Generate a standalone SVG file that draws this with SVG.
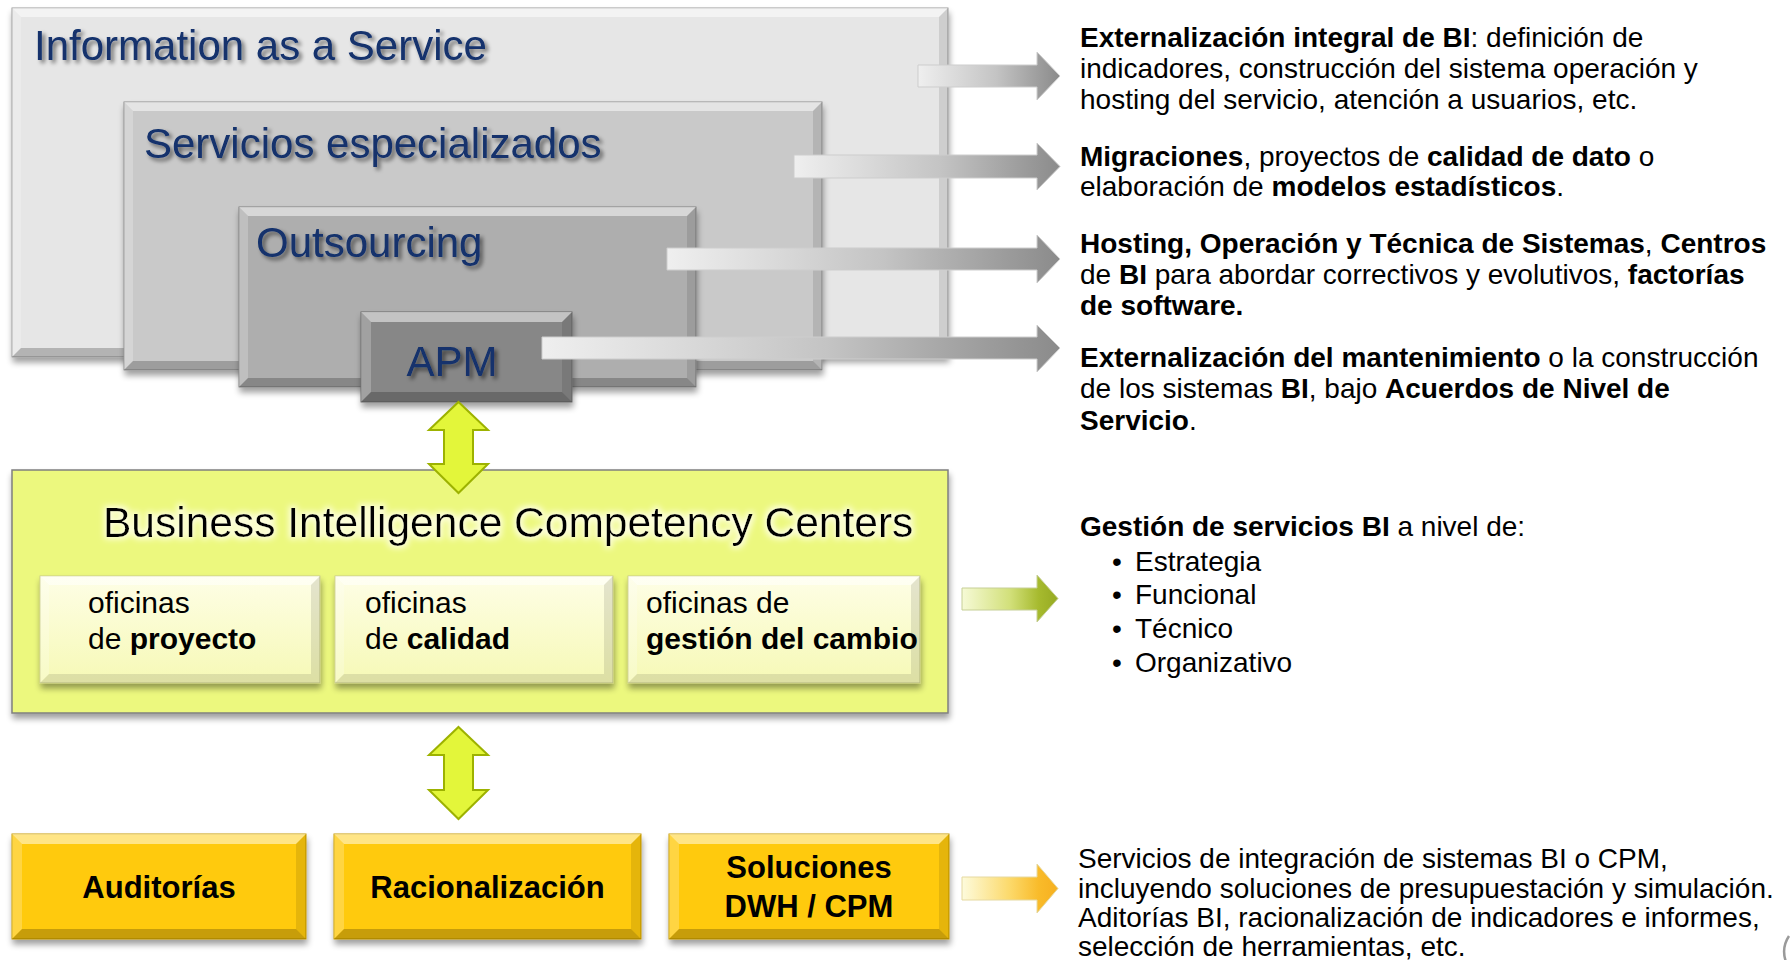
<svg xmlns="http://www.w3.org/2000/svg" width="1792" height="960" viewBox="0 0 1792 960">
<defs>
<style>
.t{font-family:"Liberation Sans",Arial,sans-serif}
.title{font-size:42px;fill:#12306c}
.rt{font-size:28px;fill:#000}
.b{font-weight:bold}
.sub{font-size:30px;fill:#000}
.gold{font-size:31px;font-weight:bold;fill:#000;text-anchor:middle}
.hl{fill:#fff;opacity:.5}
.hl2{fill:#fff;opacity:.22}
.dk{fill:#000;opacity:.10}
.dk2{fill:#000;opacity:.22}
.garrow{stroke:#cdcdcd;stroke-width:1}
.dbl{fill:#e3f63a;stroke:#9db200;stroke-width:2;stroke-linejoin:miter}
</style>
<filter id="sh" x="-5%" y="-10%" width="110%" height="130%">
<feGaussianBlur in="SourceAlpha" stdDeviation="3"/>
<feOffset dx="1" dy="5" result="o"/>
<feComponentTransfer><feFuncA type="linear" slope="0.38"/></feComponentTransfer>
<feMerge><feMergeNode/><feMergeNode in="SourceGraphic"/></feMerge>
</filter>
<filter id="ts" x="-10%" y="-30%" width="120%" height="160%">
<feGaussianBlur in="SourceAlpha" stdDeviation="2.2"/>
<feOffset dx="3" dy="3" result="o"/>
<feComponentTransfer><feFuncA type="linear" slope="0.55"/></feComponentTransfer>
<feMerge><feMergeNode/><feMergeNode in="SourceGraphic"/></feMerge>
</filter>
<filter id="glow" x="-10%" y="-40%" width="120%" height="180%">
<feMorphology in="SourceAlpha" operator="dilate" radius="2" result="d"/>
<feGaussianBlur in="d" stdDeviation="3" result="g"/>
<feFlood flood-color="#ffffe8" flood-opacity="0.95"/>
<feComposite in2="g" operator="in" result="gl"/>
<feMerge><feMergeNode in="gl"/><feMergeNode in="SourceGraphic"/></feMerge>
</filter>
<linearGradient id="gGrey" x1="0" y1="0" x2="1" y2="0">
<stop offset="0" stop-color="#efefef"/>
<stop offset="0.55" stop-color="#c4c4c4"/>
<stop offset="0.86" stop-color="#9c9c9c"/>
<stop offset="1" stop-color="#8b8b8b"/>
</linearGradient>
<linearGradient id="gGreen" x1="0" y1="0" x2="1" y2="0">
<stop offset="0" stop-color="#f6fad6"/>
<stop offset="0.5" stop-color="#d2e07a"/>
<stop offset="0.8" stop-color="#a6ba2e"/>
<stop offset="1" stop-color="#96aa22"/>
</linearGradient>
<linearGradient id="gOrange" x1="0" y1="0" x2="1" y2="0">
<stop offset="0" stop-color="#fdfbdc"/>
<stop offset="0.5" stop-color="#fcd96a"/>
<stop offset="0.8" stop-color="#f9bb2a"/>
<stop offset="1" stop-color="#f6b020"/>
</linearGradient>
<linearGradient id="gSub" x1="0" y1="0" x2="0" y2="1">
<stop offset="0" stop-color="#fefee6"/>
<stop offset="1" stop-color="#f6f9b6"/>
</linearGradient>
</defs>

<rect width="1792" height="960" fill="#fff"/>

<g id="node-information-as-a-service">
<rect x="12" y="8" width="936" height="349" fill="#e6e6e6" stroke="#9a9a9a" stroke-width="1" filter="url(#sh)"/>
<polygon class="hl" points="12,8 948,8 939,17 21,17"/>
<polygon class="hl2" points="12,8 21,17 21,348 12,357"/>
<polygon class="dk" points="948,8 948,357 939,348 939,17"/>
<polygon class="dk2" points="12,357 948,357 939,348 21,348"/>
<text class="t title" x="34" y="60" filter="url(#ts)">Information as a Service</text>
</g>

<g id="node-servicios-especializados">
<rect x="124" y="102" width="698" height="268" fill="#c9c9c9" stroke="#8e8e8e" stroke-width="1" filter="url(#sh)"/>
<polygon class="hl" points="124,102 822,102 813,111 133,111"/>
<polygon class="hl2" points="124,102 133,111 133,361 124,370"/>
<polygon class="dk" points="822,102 822,370 813,361 813,111"/>
<polygon class="dk2" points="124,370 822,370 813,361 133,361"/>
<text class="t title" x="144" y="158" filter="url(#ts)">Servicios especializados</text>
</g>

<g id="node-outsourcing">
<rect x="239" y="207" width="457" height="180" fill="#aeaeae" stroke="#808080" stroke-width="1" filter="url(#sh)"/>
<polygon class="hl" points="239,207 696,207 687,216 248,216"/>
<polygon class="hl2" points="239,207 248,216 248,378 239,387"/>
<polygon class="dk" points="696,207 696,387 687,378 687,216"/>
<polygon class="dk2" points="239,387 696,387 687,378 248,378"/>
<text class="t title" x="256" y="257" filter="url(#ts)">Outsourcing</text>
</g>

<g id="node-apm">
<rect x="361" y="312" width="211" height="90" fill="#878787" stroke="#6a6a6a" stroke-width="1" filter="url(#sh)"/>
<polygon class="hl" points="361,312 572,312 562,322 371,322"/>
<polygon class="hl2" points="361,312 371,322 371,392 361,402"/>
<polygon class="dk" points="572,312 572,402 562,392 562,322"/>
<polygon class="dk2" points="361,402 572,402 562,392 371,392"/>
<text class="t title" x="452" y="376" text-anchor="middle" filter="url(#ts)">APM</text>
</g>

<g id="node-bicc">
<rect x="12" y="470" width="936" height="243" fill="#ecf87e" stroke="#7f7f7f" stroke-width="1.5" filter="url(#sh)"/>
<text class="t" x="103" y="537" font-size="42.5" fill="#000" filter="url(#glow)">Business Intelligence Competency Centers</text>
</g>

<g id="node-oficinas-proyecto">
<rect x="40" y="576" width="280" height="107" fill="url(#gSub)" stroke="#c9cc8a" stroke-width="1" filter="url(#sh)"/>
<polygon class="hl" points="40,576 320,576 311,585 49,585"/>
<polygon class="hl2" points="40,576 49,585 49,674 40,683"/>
<polygon class="dk" points="320,576 320,683 311,674 311,585"/>
<polygon class="dk" points="40,683 320,683 311,674 49,674"/>
<text class="t sub" x="88" y="613">oficinas</text>
<text class="t sub" x="88" y="649">de <tspan class="b">proyecto</tspan></text>
</g>

<g id="node-oficinas-calidad">
<rect x="335" y="576" width="278" height="107" fill="url(#gSub)" stroke="#c9cc8a" stroke-width="1" filter="url(#sh)"/>
<polygon class="hl" points="335,576 613,576 604,585 344,585"/>
<polygon class="hl2" points="335,576 344,585 344,674 335,683"/>
<polygon class="dk" points="613,576 613,683 604,674 604,585"/>
<polygon class="dk" points="335,683 613,683 604,674 344,674"/>
<text class="t sub" x="365" y="613">oficinas</text>
<text class="t sub" x="365" y="649">de <tspan class="b">calidad</tspan></text>
</g>

<g id="node-oficinas-cambio">
<rect x="628" y="576" width="292" height="107" fill="url(#gSub)" stroke="#c9cc8a" stroke-width="1" filter="url(#sh)"/>
<polygon class="hl" points="628,576 920,576 911,585 637,585"/>
<polygon class="hl2" points="628,576 637,585 637,674 628,683"/>
<polygon class="dk" points="920,576 920,683 911,674 911,585"/>
<polygon class="dk" points="628,683 920,683 911,674 637,674"/>
<text class="t sub" x="646" y="613">oficinas de</text>
<text class="t sub b" x="646" y="649" font-size="29">gestión del cambio</text>
</g>

<g id="node-auditorias">
<rect x="12" y="834" width="294" height="105" fill="#ffca08" stroke="#c79a00" stroke-width="1" filter="url(#sh)"/>
<polygon class="hl" points="12,834 306,834 296,844 22,844"/>
<polygon class="hl2" points="12,834 22,844 22,929 12,939"/>
<polygon class="dk" points="306,834 306,939 296,929 296,844"/>
<polygon class="dk2" points="12,939 306,939 296,929 22,929"/>
<text class="t gold" x="159" y="898">Auditorías</text>
</g>

<g id="node-racionalizacion">
<rect x="334" y="834" width="307" height="105" fill="#ffca08" stroke="#c79a00" stroke-width="1" filter="url(#sh)"/>
<polygon class="hl" points="334,834 641,834 631,844 344,844"/>
<polygon class="hl2" points="334,834 344,844 344,929 334,939"/>
<polygon class="dk" points="641,834 641,939 631,929 631,844"/>
<polygon class="dk2" points="334,939 641,939 631,929 344,929"/>
<text class="t gold" x="487.5" y="898">Racionalización</text>
</g>

<g id="node-soluciones">
<rect x="669" y="834" width="280" height="105" fill="#ffca08" stroke="#c79a00" stroke-width="1" filter="url(#sh)"/>
<polygon class="hl" points="669,834 949,834 939,844 679,844"/>
<polygon class="hl2" points="669,834 679,844 679,929 669,939"/>
<polygon class="dk" points="949,834 949,939 939,929 939,844"/>
<polygon class="dk2" points="669,939 949,939 939,929 679,929"/>
<text class="t gold" x="809" y="878">Soluciones</text>
<text class="t gold" x="809" y="917">DWH / CPM</text>
</g>

<g id="connectors">
<path class="garrow" fill="url(#gGrey)" d="M918,65 H1037 V52 L1060,76 L1037,100 V87 H918 Z"/>
<path class="garrow" fill="url(#gGrey)" d="M794,155 H1037 V143 L1060,166.5 L1037,190 V178 H794 Z"/>
<path class="garrow" fill="url(#gGrey)" d="M667,248 H1037 V235 L1060,259 L1037,283 V270 H667 Z"/>
<path class="garrow" fill="url(#gGrey)" d="M542,337 H1037 V325 L1060,348 L1037,372 V359 H542 Z"/>
<path fill="url(#gGreen)" stroke="#c6cf96" stroke-width="1" d="M962,588 H1037 V575 L1058,598.5 L1037,622 V610 H962 Z"/>
<path fill="url(#gOrange)" stroke="#e6d9a0" stroke-width="1" d="M962,877 H1037 V864 L1058,888.5 L1037,913 V900 H962 Z"/>
<path class="dbl" d="M458.5,402 L488,430 H473 V464 H488 L458.5,493 L429,464 H444 V430 H429 Z"/>
<path class="dbl" d="M458.5,727 L488,755 H473 V790 H488 L458.5,819 L429,790 H444 V755 H429 Z"/>
</g>

<g id="text-iaas">
<text class="t rt" x="1080" y="47"><tspan class="b">Externalización integral de BI</tspan>: definición de</text>
<text class="t rt" x="1080" y="78">indicadores, construcción del sistema operación y</text>
<text class="t rt" x="1080" y="109">hosting del servicio, atención a usuarios, etc.</text>
</g>
<g id="text-servicios">
<text class="t rt" x="1080" y="166"><tspan class="b">Migraciones</tspan>, proyectos de <tspan class="b">calidad de dato</tspan> o</text>
<text class="t rt" x="1080" y="196">elaboración de <tspan class="b">modelos estadísticos</tspan>.</text>
</g>
<g id="text-outsourcing">
<text class="t rt" x="1080" y="253"><tspan class="b">Hosting, Operación y Técnica de Sistemas</tspan>, <tspan class="b">Centros</tspan></text>
<text class="t rt" x="1080" y="284">de <tspan class="b">BI</tspan> para abordar correctivos y evolutivos, <tspan class="b">factorías</tspan></text>
<text class="t rt b" x="1080" y="315">de software.</text>
</g>
<g id="text-apm">
<text class="t rt" x="1080" y="367"><tspan class="b">Externalización del mantenimiento</tspan> o la construcción</text>
<text class="t rt" x="1080" y="398">de los sistemas <tspan class="b">BI</tspan>, bajo <tspan class="b">Acuerdos de Nivel de</tspan></text>
<text class="t rt" x="1080" y="430"><tspan class="b">Servicio</tspan>.</text>
</g>
<g id="text-bicc">
<text class="t rt" x="1080" y="536"><tspan class="b">Gestión de servicios BI</tspan> a nivel de:</text>
<text class="t rt" x="1112" y="571">•<tspan x="1135">Estrategia</tspan></text>
<text class="t rt" x="1112" y="604">•<tspan x="1135">Funcional</tspan></text>
<text class="t rt" x="1112" y="638">•<tspan x="1135">Técnico</tspan></text>
<text class="t rt" x="1112" y="672">•<tspan x="1135">Organizativo</tspan></text>
</g>
<g id="text-soluciones">
<text class="t rt" x="1078" y="868">Servicios de integración de sistemas BI o CPM,</text>
<text class="t rt" x="1078" y="898">incluyendo soluciones de presupuestación y simulación.</text>
<text class="t rt" x="1078" y="927">Aditorías BI, racionalización de indicadores e informes,</text>
<text class="t rt" x="1078" y="956">selección de herramientas, etc.</text>
</g>
<path d="M1789,936 Q1781,948 1786,962" fill="none" stroke="#9a9a9a" stroke-width="2.5"/>
</svg>
